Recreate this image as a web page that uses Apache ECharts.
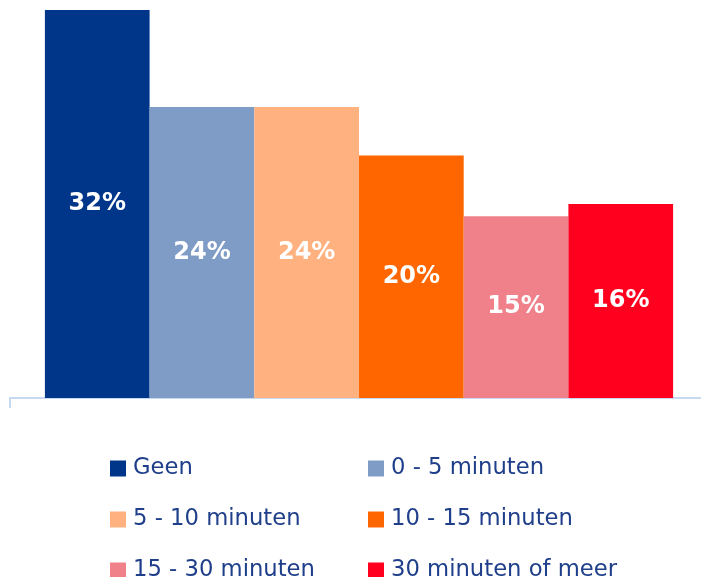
<!DOCTYPE html>
<html>
<head>
<meta charset="utf-8">
<script src="https://cdn.jsdelivr.net/npm/echarts@6/dist/echarts.min.js"></script>
<style>html,body{margin:0;padding:0;background:#fff;overflow:hidden;width:701px;height:577px;}#c{width:708px;height:600px;}</style>
</head>
<body>
<div id="c"></div>
<script>
var categories = ['Geen', '0 - 5 minuten', '5 - 10 minuten', '10 - 15 minuten', '15 - 30 minuten', '30 minuten of meer'];
var values = [32, 24, 24, 20, 15, 16];
var colors = ['#003689', '#7F9CC6', '#FFB17F', '#FF6600', '#F0808A', '#FF001F'];
var leftColumn = ['Geen', '5 - 10 minuten', '15 - 30 minuten'];
var rightColumn = ['0 - 5 minuten', '10 - 15 minuten', '30 minuten of meer'];

var chart = echarts.init(document.getElementById('c'), null, {renderer: 'canvas'});
var series = categories.map(function (name, i) {
  return {
    name: name,
    type: 'bar',
    barWidth: 104.7,
    barGap: '0%',
    itemStyle: {color: colors[i]},
    label: {
      show: true,
      position: 'inside',
      formatter: '{c}%',
      color: '#ffffff',
      fontFamily: 'DejaVu Sans',
      fontWeight: 'bold',
      fontSize: 24
    },
    data: [values[i]]
  };
});
var legendBase = {
  orient: 'vertical',
  top: 457,
  padding: 0,
  itemWidth: 16,
  itemHeight: 16,
  itemGap: 28,
  icon: 'rect',
  textStyle: {color: '#1F3F8A', fontFamily: 'DejaVu Sans', fontSize: 22.7, lineHeight: 22, padding: [0, 0, 0, 2]}
};
chart.setOption({
  animation: false,
  grid: {left: 10, right: 0, top: 10, height: 388, containLabel: false},
  xAxis: {
    type: 'category',
    data: [''],
    axisLine: {show: true, lineStyle: {color: '#C6D9F1', width: 2}},
    axisTick: {show: true, length: 10, lineStyle: {color: '#C6D9F1', width: 2}},
    axisLabel: {show: false}
  },
  yAxis: {type: 'value', min: 0, max: 32, show: false, splitLine: {show: false}},
  legend: [
    Object.assign({}, legendBase, {left: 110, data: leftColumn}),
    Object.assign({}, legendBase, {left: 368, data: rightColumn})
  ],
  series: series
});
</script>
</body>
</html>
